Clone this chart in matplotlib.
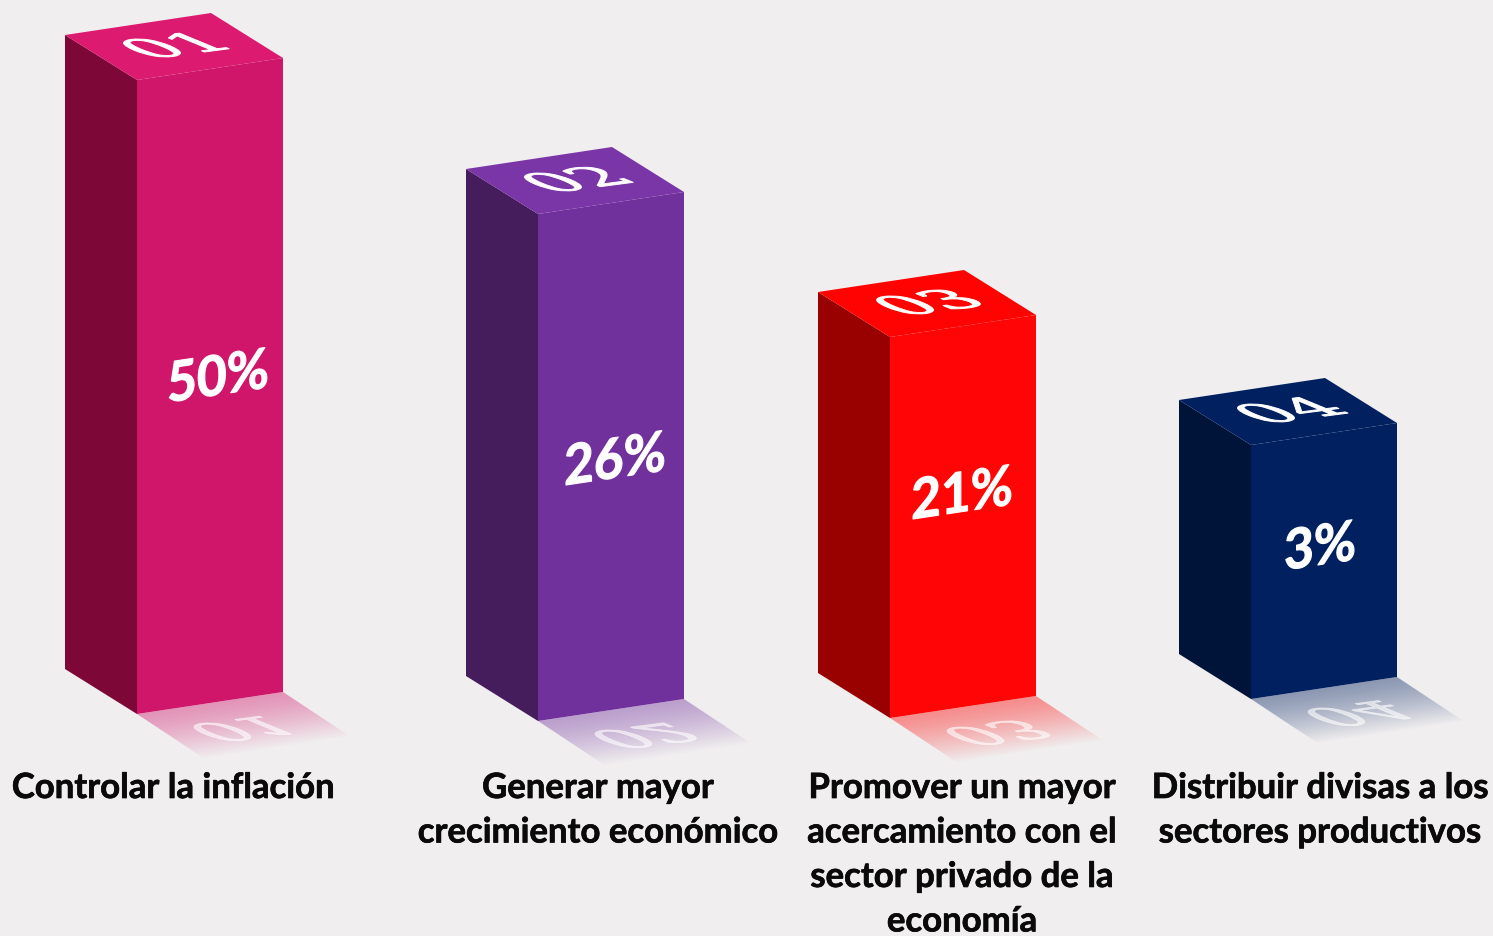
import matplotlib
matplotlib.use('Agg')
import matplotlib.pyplot as plt
import numpy as np
from matplotlib.patches import Polygon
from matplotlib.patheffects import AbstractPathEffect, withStroke
from matplotlib.colors import to_rgb
from matplotlib.transforms import Affine2D

# data
percents = [50, 26, 21, 3]
codes = ['01', '02', '03', '04']
categories = ['Controlar la inflación',
              'Generar mayor\ncrecimiento económico',
              'Promover un mayor\nacercamiento con el\nsector privado de la\neconomía',
              'Distribuir divisas a los\nsectores productivos']
# drawn height of each bar (not proportional to the percents)
bar_heights = [634, 507, 381, 254]

# layout, in pixels of the image
corner_x = [137, 538, 890, 1251]
base_y = [714, 721, 718, 699]
label_x = [173, 598, 962, 1320]
percent_x = [218, 615, 962, 1320]
percent_y = [379, 462, 496, 549]
front_w, front_rise = 146, 22
side_w, side_rise = 72, 45
shadow_dx, shadow_dy = 68, 45

front_colors = ['#D0166A', '#71319D', '#FF0505', '#00205F']
top_colors = ['#DC1A70', '#7A35A6', '#FF0303', '#002060']
side_colors = ['#7D0838', '#451C5C', '#990000', '#001338']
bg = '#F0EEEF'


class Skew(AbstractPathEffect):
    # keeps the text as text, only bends it onto the faces of the boxes
    def __init__(self, pos, matrix, bold=0.0):
        super().__init__()
        self.pos = pos
        self.matrix = matrix
        self.bold = bold

    def draw_path(self, renderer, gc, tpath, affine, rgbFace=None):
        cx, cy = ax.transData.transform(self.pos)
        a, b, c, d = self.matrix
        skew = Affine2D().translate(-cx, -cy) + Affine2D.from_values(a, c, b, d, 0, 0) + Affine2D().translate(cx, cy)
        gc0 = renderer.new_gc()
        gc0.copy_properties(gc)
        gc0.set_linewidth(self.bold)
        gc0.set_foreground(rgbFace)
        renderer.draw_path(gc0, tpath, affine + skew, rgbFace)
        gc0.restore()


def plot_bar(i):
    x, y, h = corner_x[i], base_y[i], bar_heights[i]
    top = y - h
    # shadow, fading away from the front edge
    xs, ys = np.meshgrid(np.arange(x - 2, x + front_w + shadow_dx + 2), np.arange(y - front_rise - 2, y + shadow_dy + 2))
    slope = front_rise / front_w
    t = (ys - (y - (xs - x) * slope)) / (shadow_dy + shadow_dx * slope)
    img = np.zeros(xs.shape + (4,))
    img[..., :3] = to_rgb(front_colors[i])
    img[..., 3] = np.clip(0.42 * (1 - np.clip(t, 0, 1) ** 1.3), 0, 1)
    extent = (xs.min() - 0.5, xs.max() + 0.5, ys.max() + 0.5, ys.min() - 0.5)
    im = ax.imshow(img, extent=extent, aspect='auto', zorder=1, interpolation='bilinear')
    clip = Polygon([(x, y), (x + front_w, y - front_rise),
                    (x + front_w + shadow_dx, y - front_rise + shadow_dy), (x + shadow_dx, y + shadow_dy)],
                   transform=ax.transData)
    im.set_clip_path(clip)

    # the three faces
    ax.add_patch(Polygon([(x, y), (x + front_w, y - front_rise), (x + front_w, top - front_rise), (x, top)],
                         fc=front_colors[i], ec='none', zorder=2))
    ax.add_patch(Polygon([(x, y), (x - side_w, y - side_rise), (x - side_w, top - side_rise), (x, top)],
                         fc=side_colors[i], ec='none', zorder=2))
    ax.add_patch(Polygon([(x, top), (x + front_w, top - front_rise),
                          (x + front_w - side_w, top - front_rise - side_rise), (x - side_w, top - side_rise)],
                         fc=top_colors[i], ec='none', zorder=2))

    # number on the top face and its reflection
    pos = (x + 42, top - 33)
    ax.text(pos[0], pos[1], codes[i], family='DejaVu Serif', fontsize=44, color='white', ha='center', va='center',
            zorder=3, path_effects=[Skew(pos, (1.15, -0.9, 0.15, 0.37), bold=0.7)])
    pos = (x + 103, y + 13)
    ax.text(pos[0], pos[1], codes[i], family='DejaVu Serif', fontsize=44, color=(1, 1, 1, 0.6), ha='center', va='center',
            zorder=3, path_effects=[Skew(pos, (1.15, 0.9, 0.15, -0.37), bold=0.5)])

    # percent on the front face
    pos = (percent_x[i], percent_y[i])
    ax.text(pos[0], pos[1], '{}%'.format(percents[i]), family='Lato', weight='bold', fontsize=37, color='white',
            ha='center', va='center', zorder=3, path_effects=[Skew(pos, (1, 0, 0.15, 1.08), bold=0.8)])

    ax.text(label_x[i], 772, categories[i], family='Lato', weight='bold', fontsize=25, color='#0A0A0A',
            ha='center', va='top', linespacing=1.48, zorder=3,
            path_effects=[withStroke(linewidth=0.5, foreground='#0A0A0A')])


fig = plt.figure(figsize=(14.93, 9.36), dpi=100, facecolor=bg)
ax = fig.add_axes([0, 0, 1, 1])
ax.set_facecolor(bg)
for i in range(len(percents)):
    plot_bar(i)
ax.set_xlim(0, 1493)
ax.set_ylim(936, 0)
ax.axis('off')
fig.savefig('out.png', dpi=100, facecolor=bg)
